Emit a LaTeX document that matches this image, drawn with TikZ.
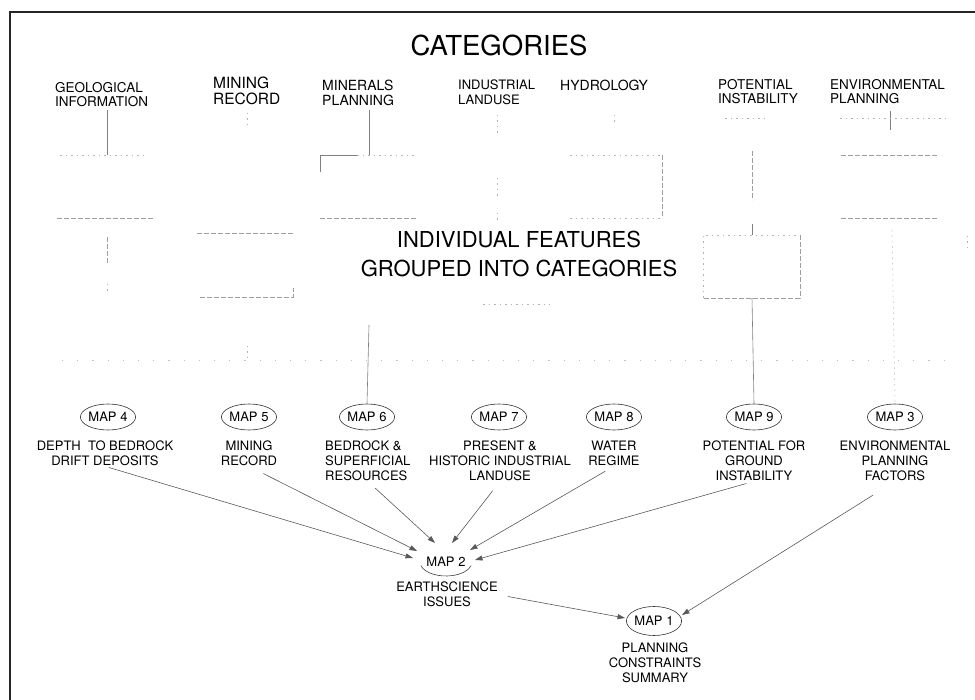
\documentclass[tikz,border=0pt]{standalone}
\usepackage{fontspec}
\setmainfont{TeX Gyre Heros}
\usetikzlibrary{shapes.geometric,arrows.meta,calc}

\begin{document}
\begin{tikzpicture}[x=1pt,y=-1pt,
  cat/.style={anchor=north west,inner sep=0pt,align=left,font=\fontsize{13.5}{14.5}\selectfont},
  desc/.style={anchor=north,inner sep=0pt,align=center,font=\fontsize{13}{15}\selectfont},
  mapnode/.style={ellipse,draw=black!80,line width=0.6pt,minimum width=52pt,minimum height=26pt,inner sep=0pt,font=\fontsize{13}{15}\selectfont},
  plainmap/.style={ellipse,minimum width=52pt,minimum height=28pt,inner sep=0pt,font=\fontsize{13}{15}\selectfont},
  link/.style={draw=black!65,line width=0.6pt,-{Triangle[length=7.5pt,width=5pt]}},
  stem/.style={draw=black!50,line width=0.6pt},
  faint/.style={draw=black!38,line width=0.5pt,dash pattern=on 5pt off 2pt},
  fainter/.style={draw=black!30,line width=0.5pt,dash pattern=on 1.5pt off 4pt},
  specks/.style={draw=black!25,line width=0.5pt,dash pattern=on 1.2pt off 14pt},
  frame/.style={draw=black!85,line width=1.4pt}
]
\useasboundingbox (0,0) rectangle (975,700);

% frame (top and left edges)
\draw[frame] (975,12) -- (10,12) -- (10,700);

% headings
\node[anchor=north,inner sep=0pt,font=\fontsize{27.5}{30}\selectfont] (cats) at (499,35) {CATEGORIES};
\node[anchor=north,inner sep=0pt,align=center,font=\fontsize{22}{29}\selectfont] (feat) at (519,231)
  {INDIVIDUAL FEATURES\\GROUPED INTO CATEGORIES};

% category labels
\node[cat] (cgeo) at (55,82) {GEOLOGICAL\\INFORMATION};
\node[cat,font=\fontsize{15.5}{16}\selectfont] (cmin) at (213,77) {MINING\\RECORD};
\node[cat,font=\fontsize{14}{14.5}\selectfont] (cmnp) at (322,80) {MINERALS\\PLANNING};
\node[cat,font=\fontsize{13}{14.5}\selectfont] (cind) at (458,80) {INDUSTRIAL\\LANDUSE};
\node[cat,font=\fontsize{14}{14.5}\selectfont] (chyd) at (560,80) {HYDROLOGY};
\node[cat] (cpot) at (718,79) {POTENTIAL\\INSTABILITY};
\node[cat] (cenv) at (830,79) {ENVIRONMENTAL\\PLANNING};

% feature grouping tree (faint)
% geological
\draw[stem] (107,110) -- (107,155);
\draw[fainter] (60,155) -- (145,155);
\draw[faint] (57,218) -- (155,218);
\draw[faint] (107,237) -- (107,263);
\draw[fainter] (107,284) -- (107,292);
% mining
\draw[fainter] (247,113) -- (247,126);
\draw[faint] (197,233) -- (293,233);
\draw[faint] (200,297) -- (293,297) -- (293,288);
\draw[fainter] (247,346) -- (247,360);
% minerals
\draw[stem] (369,110) -- (369,155);
\draw[stem] (320,172) -- (320,155) -- (357,155);
\draw[fainter] (357,155) -- (415,155);
\draw[faint] (320,218) -- (417,218);
% industrial
\draw[fainter] (497,115) -- (497,137);
\draw[fainter] (497,178) -- (497,200);
\draw[fainter] (497,213) -- (497,223);
\draw[fainter] (483,304) -- (550,304);
% hydrology
\draw[fainter] (614,115) -- (614,126);
\draw[fainter] (570,155) -- (662,155);
\draw[faint] (662,155) -- (662,218);
\draw[fainter] (570,218) -- (662,218);
% potential instability
\draw[fainter] (725,118) -- (767,118);
\draw[faint] (752,151) -- (752,200);
\draw[stem] (752,224) -- (752,235);
\draw[fainter] (703,298) -- (703,235) -- (800,235);
\draw[faint] (800,235) -- (800,298) -- (703,298);
% environmental planning
\draw[stem] (890,111) -- (890,130);
\draw[fainter] (840,118) -- (950,118);
\draw[faint] (841,155) -- (938,155);
\draw[faint] (841,218) -- (938,218);
\draw[fainter] (967,236) -- (967,252);
% faint row above the maps
\draw[specks] (62,360) -- (945,360);

% maps
\node[mapnode] (m4) at (108,417) {MAP 4};
\node[mapnode] (m5) at (249,417) {MAP 5};
\node[mapnode] (m6) at (367,417) {MAP 6};
\node[mapnode] (m7) at (499,417) {MAP 7};
\node[mapnode] (m8) at (614,417) {MAP 8};
\node[mapnode] (m9) at (754,417) {MAP 9};
\node[mapnode] (m3) at (895,417) {MAP 3};

\node[desc] (d4) at (105,441) {DEPTH\ \ TO BEDROCK\\DRIFT DEPOSITS};
\node[desc] (d5) at (249,441) {MINING\\RECORD};
\node[desc,anchor=north west,align=left] (d6) at (325,441) {BEDROCK \&\\SUPERFICIAL\\RESOURCES};
\node[desc] (d7) at (500,441) {PRESENT \&\\HISTORIC INDUSTRIAL\\LANDUSE};
\node[desc] (d8) at (614,441) {WATER\\REGIME};
\node[desc] (d9) at (754,441) {POTENTIAL FOR\\GROUND\\INSTABILITY};
\node[desc] (d3) at (895,441) {ENVIRONMENTAL\\PLANNING\\FACTORS};

% stems down to the maps
\coordinate (mnstem) at (369,325);
\coordinate (potstem) at (752,298);
\coordinate (envstem) at (892,230);
\draw[stem] (mnstem) -- (m6.north);
\draw[stem] (potstem) -- (m9.north);
\draw[fainter] (envstem) -- (m3.north);

% earthscience issues
\node[plainmap] (m2) at (446,562) {MAP 2};
\draw[draw=black!75,line width=0.6pt] ([shift={(195:26pt and 14pt)}]m2.center)
  arc[start angle=195,end angle=345,x radius=26pt,y radius=14pt];
\node[desc] (e2) at (447,582) {EARTHSCIENCE\\ISSUES};

% planning constraints summary
\node[mapnode,minimum width=48pt,minimum height=29pt] (m1) at (654,621) {MAP 1};
\node[desc] (s1) at (655,643) {PLANNING\\CONSTRAINTS\\SUMMARY};

% arrow tips around the maps
\coordinate (a4) at ($(m2)+(-33,-4)$);
\coordinate (a5) at ($(m2)+(-29,-11)$);
\coordinate (a6) at ($(m2)+(-11,-19)$);
\coordinate (a7) at ($(m2)+(6,-19)$);
\coordinate (a8) at ($(m2)+(24,-12)$);
\coordinate (a9) at ($(m2)+(29,-2)$);
\coordinate (b2) at ($(m1)+(-29,-3)$);
\coordinate (b3) at ($(m1)+(28,-6)$);

\draw[link,shorten <=4pt]  (d4.south) -- (a4);
\draw[link,shorten <=16pt] (d5.south) -- (a5);
\draw[link,shorten <=10pt] (d6.south) -- (a6);
\draw[link,shorten <=12pt] (d7.south) -- (a7);
\draw[link,shorten <=10pt] (d8.south) -- (a8);
\draw[link,shorten <=8pt]  (d9.south) -- (a9);
\draw[link,shorten <=10pt] (e2.east) -- (b2);
\draw[link,shorten <=26pt] (d3.south) -- (b3);
\end{tikzpicture}
\end{document}
